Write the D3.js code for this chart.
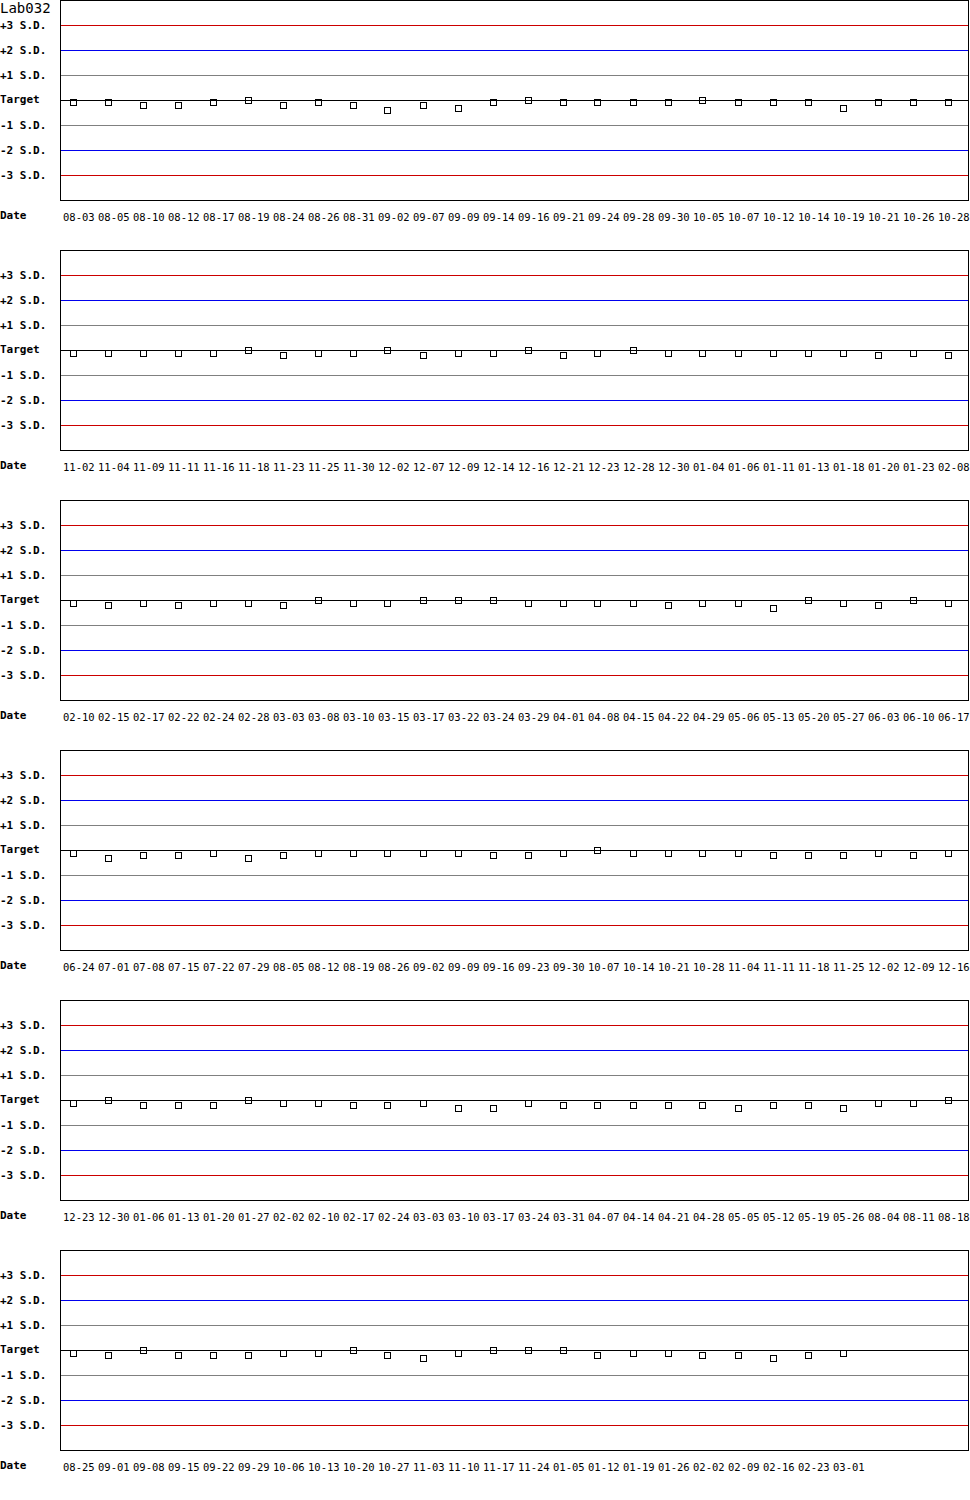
<!DOCTYPE html>
<html>
<head>
<meta charset="utf-8">
<script src="https://cdn.jsdelivr.net/npm/d3@7/dist/d3.min.js"></script>
<style>
body { margin: 0; background: #fff; }
svg { display: block; }
</style>
</head>
<body>
<svg id="chart" width="970" height="1500"></svg>
<script>
const title = "Lab032";
const sdLevels = [3, 2, 1, 0, -1, -2, -3];
const sdLabels = ["+3 S.D.", "+2 S.D.", "+1 S.D.", "Target", "-1 S.D.", "-2 S.D.", "-3 S.D."];
const sdColors = ["#cc0000", "#0000ee", "#808080", "#000000", "#808080", "#0000ee", "#cc0000"];

const dates1 = ["08-03","08-05","08-10","08-12","08-17","08-19","08-24","08-26","08-31","09-02","09-07","09-09","09-14","09-16","09-21","09-24","09-28","09-30","10-05","10-07","10-12","10-14","10-19","10-21","10-26","10-28"];
const values1 = [-0.1,-0.1,-0.2,-0.2,-0.1,0,-0.2,-0.1,-0.2,-0.4,-0.2,-0.3,-0.1,0,-0.1,-0.1,-0.1,-0.1,0,-0.1,-0.1,-0.1,-0.3,-0.1,-0.1,-0.1];

const dates2 = ["11-02","11-04","11-09","11-11","11-16","11-18","11-23","11-25","11-30","12-02","12-07","12-09","12-14","12-16","12-21","12-23","12-28","12-30","01-04","01-06","01-11","01-13","01-18","01-20","01-23","02-08"];
const values2 = [-0.1,-0.1,-0.1,-0.1,-0.1,0,-0.2,-0.1,-0.1,0,-0.2,-0.1,-0.1,0,-0.2,-0.1,0,-0.1,-0.1,-0.1,-0.1,-0.1,-0.1,-0.2,-0.1,-0.2];

const dates3 = ["02-10","02-15","02-17","02-22","02-24","02-28","03-03","03-08","03-10","03-15","03-17","03-22","03-24","03-29","04-01","04-08","04-15","04-22","04-29","05-06","05-13","05-20","05-27","06-03","06-10","06-17"];
const values3 = [-0.1,-0.2,-0.1,-0.2,-0.1,-0.1,-0.2,0,-0.1,-0.1,0,0,0,-0.1,-0.1,-0.1,-0.1,-0.2,-0.1,-0.1,-0.3,0,-0.1,-0.2,0,-0.1];

const dates4 = ["06-24","07-01","07-08","07-15","07-22","07-29","08-05","08-12","08-19","08-26","09-02","09-09","09-16","09-23","09-30","10-07","10-14","10-21","10-28","11-04","11-11","11-18","11-25","12-02","12-09","12-16"];
const values4 = [-0.1,-0.3,-0.2,-0.2,-0.1,-0.3,-0.2,-0.1,-0.1,-0.1,-0.1,-0.1,-0.2,-0.2,-0.1,0,-0.1,-0.1,-0.1,-0.1,-0.2,-0.2,-0.2,-0.1,-0.2,-0.1];

const dates5 = ["12-23","12-30","01-06","01-13","01-20","01-27","02-02","02-10","02-17","02-24","03-03","03-10","03-17","03-24","03-31","04-07","04-14","04-21","04-28","05-05","05-12","05-19","05-26","08-04","08-11","08-18"];
const values5 = [-0.1,0,-0.2,-0.2,-0.2,0,-0.1,-0.1,-0.2,-0.2,-0.1,-0.3,-0.3,-0.1,-0.2,-0.2,-0.2,-0.2,-0.2,-0.3,-0.2,-0.2,-0.3,-0.1,-0.1,0];

const dates6 = ["08-25","09-01","09-08","09-15","09-22","09-29","10-06","10-13","10-20","10-27","11-03","11-10","11-17","11-24","01-05","01-12","01-19","01-26","02-02","02-09","02-16","02-23","03-01"];
const values6 = [-0.1,-0.2,0,-0.2,-0.2,-0.2,-0.1,-0.1,0,-0.2,-0.3,-0.1,0,0,0,-0.2,-0.1,-0.1,-0.2,-0.2,-0.3,-0.2,-0.1];

const panels = [
  {dates: dates1, values: values1},
  {dates: dates2, values: values2},
  {dates: dates3, values: values3},
  {dates: dates4, values: values4},
  {dates: dates5, values: values5},
  {dates: dates6, values: values6}
];

const svg = d3.select("#chart");
const mono = "'DejaVu Sans Mono', 'Liberation Mono', monospace";
const panelH = 250, boxL = 60, boxR = 968, boxH = 200;
const slots = 26;

const x = d3.scaleLinear().domain([0, slots]).range([72.5, 72.5 + 35 * slots]);

svg.append("text")
  .attr("x", 0).attr("y", 13)
  .attr("font-family", mono).attr("font-size", 14)
  .attr("fill", "#000")
  .text(title);

panels.forEach((p, pi) => {
  const top = pi * panelH;
  const y = d3.scaleLinear().domain([-4, 4]).range([top + boxH, top]);
  const g = svg.append("g");

  g.selectAll("line.sd").data(sdLevels).join("line")
    .attr("class", "sd")
    .attr("x1", boxL).attr("x2", boxR)
    .attr("y1", d => Math.round(y(d)) + 0.5)
    .attr("y2", d => Math.round(y(d)) + 0.5)
    .attr("stroke", (d, i) => sdColors[i])
    .attr("stroke-width", 1)
    .attr("shape-rendering", "crispEdges");

  g.append("rect")
    .attr("x", boxL + 0.5).attr("y", top + 0.5)
    .attr("width", boxR - boxL).attr("height", boxH)
    .attr("fill", "none").attr("stroke", "#000")
    .attr("shape-rendering", "crispEdges");

  g.selectAll("text.sdl").data(sdLevels).join("text")
    .attr("class", "sdl")
    .attr("x", 0)
    .attr("y", (d, i) => y(d) + (d === 0 ? 2.5 : 3.5))
    .attr("font-family", mono).attr("font-size", 11).attr("font-weight", "bold")
    .attr("fill", "#000")
    .text((d, i) => sdLabels[i]);

  g.append("text")
    .attr("x", 0).attr("y", top + 219)
    .attr("font-family", mono).attr("font-size", 11).attr("font-weight", "bold")
    .attr("fill", "#000")
    .text("Date");

  g.selectAll("text.dl").data(p.dates).join("text")
    .attr("class", "dl")
    .attr("x", (d, i) => x(i) - 9.5)
    .attr("y", top + 221)
    .attr("font-family", mono).attr("font-size", 10.5)
    .attr("fill", "#000")
    .text(d => d);

  g.selectAll("rect.pt").data(p.values).join("rect")
    .attr("class", "pt")
    .attr("x", (d, i) => Math.round(x(i) - 3))
    .attr("y", d => Math.round(y(d) - 3))
    .attr("width", 6).attr("height", 6)
    .attr("fill", "none").attr("stroke", "#000").attr("stroke-width", 1)
    .attr("shape-rendering", "crispEdges");
});
</script>
</body>
</html>
